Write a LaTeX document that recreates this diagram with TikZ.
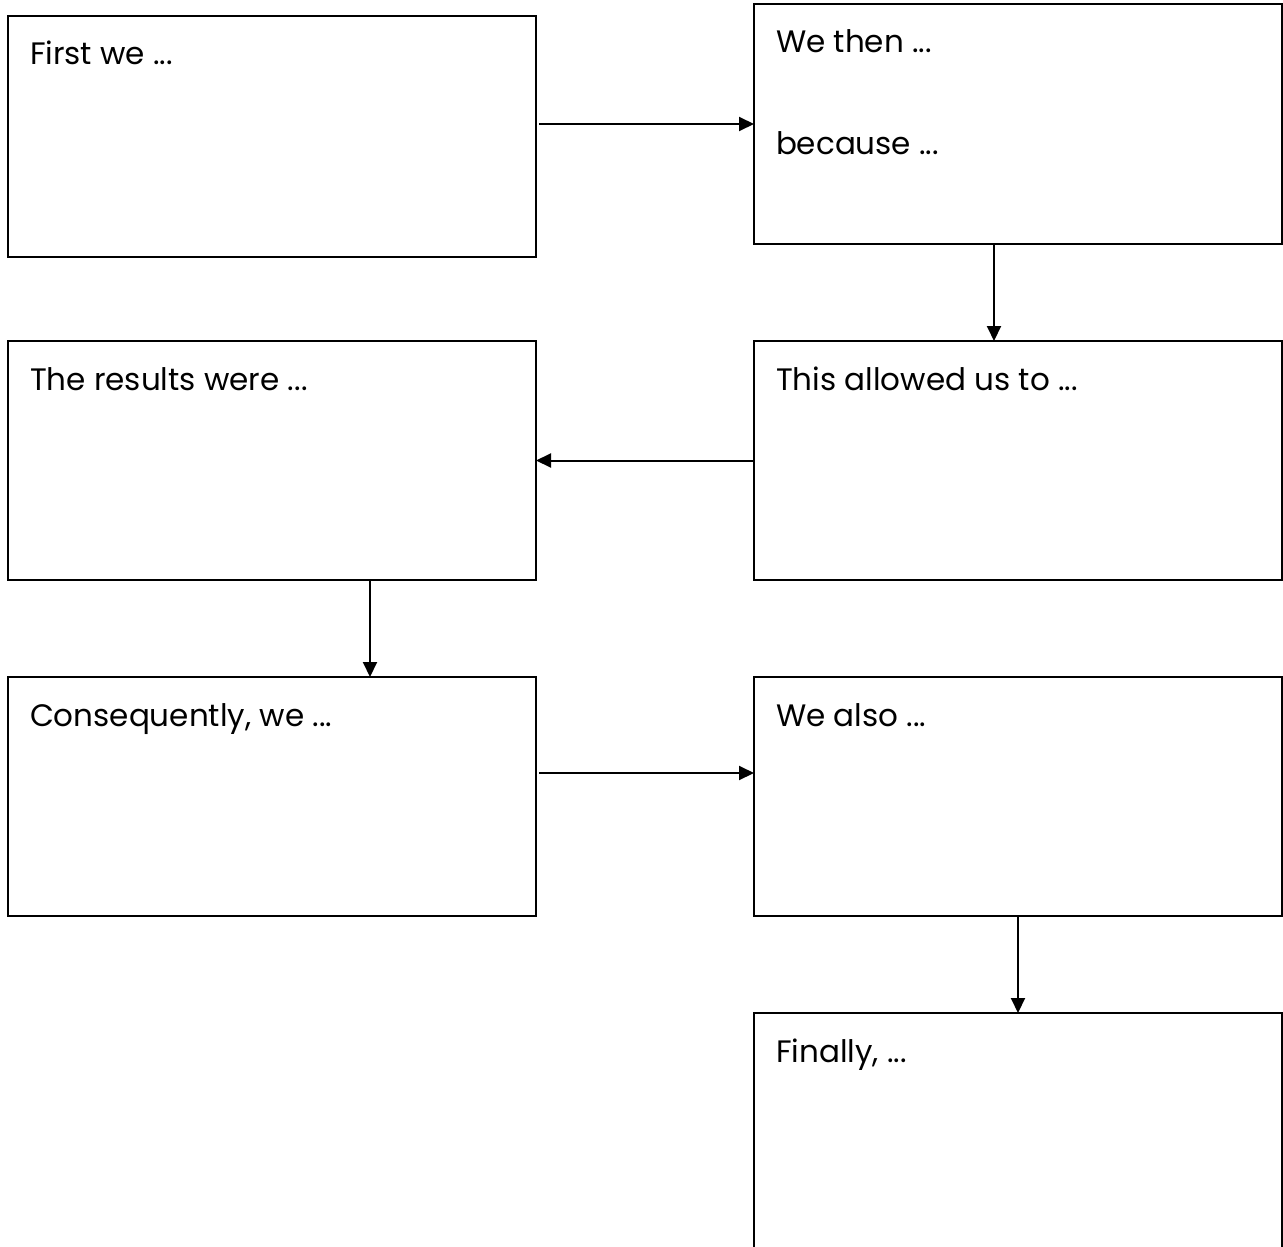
\documentclass[tikz,border=0pt]{standalone}
\usepackage{fontspec}
\setmainfont{Poppins}
\usetikzlibrary{arrows.meta, positioning}

\begin{document}
\begin{tikzpicture}[x=1pt, y=-1pt, node distance=97pt and 218pt, >={Triangle[length=15pt, width=14pt]}, line width=2pt]
    \tikzset{
        box/.style={rectangle, draw, minimum width=528pt, minimum height=239pt, inner sep=0pt, outer sep=0pt},
        txt/.style={anchor=base west, xshift=21pt, yshift=-49pt, inner sep=0pt, font=\fontsize{31pt}{37pt}\selectfont},
        line/.style={draw, ->}
    }
    \useasboundingbox (0,0) rectangle (1283,1247);

    \node (first) [box, anchor=north west, minimum height=241pt, label={[txt]north west:First we ...}] at (8,16) {};
    \node (then) [box, anchor=north west, minimum height=240pt, label={[txt]north west:We then ...}, label={[txt, yshift=-101pt]north west:because ...}] at (754,4) {};
    \node (allow) [box, below=of then, label={[txt]north west:This allowed us to ...}] {};
    \node (results) [box, left=of allow, label={[txt]north west:The results were ...}] {};
    \node (conseq) [box, below=of results, label={[txt]north west:{Consequently, we ...}}] {};
    \node (also) [box, right=of conseq, label={[txt]north west:We also ...}] {};
    \node (final) [box, below=of also, minimum height=300pt, label={[txt]north west:{Finally, ...}}] {};

    \path [line, shorten <=3pt] (first.east |- then.west) -- (then.west);
    \path [line] ([xshift=-24pt]then.south) -- ([xshift=-24pt]allow.north);
    \path [line] (allow.west) -- (results.east);
    \path [line] ([xshift=98pt]results.south) -- ([xshift=98pt]conseq.north);
    \path [line, shorten <=3pt] ([yshift=23.5pt]conseq.east) -- ([yshift=23.5pt]also.west);
    \path [line] (also.south) -- (final.north);

\end{tikzpicture}
\end{document}
